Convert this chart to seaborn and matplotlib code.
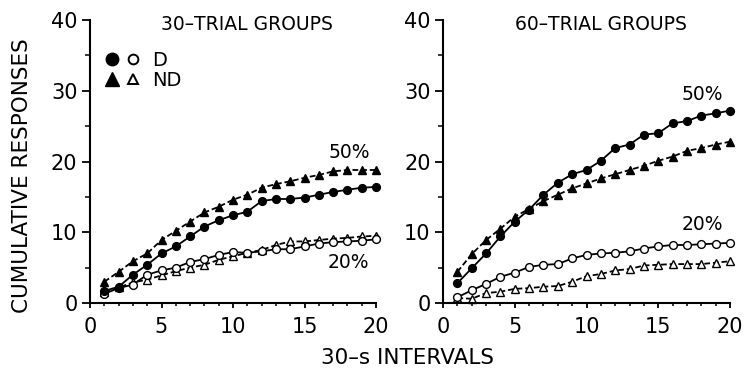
import numpy as np
import pandas as pd
import matplotlib
matplotlib.use("Agg")
import matplotlib.pyplot as plt
import seaborn as sns
from matplotlib.lines import Line2D
from matplotlib.legend_handler import HandlerTuple
from matplotlib.ticker import MultipleLocator

intervals = list(range(1, 21))

# 30-trial groups
t30_d50 = [1.7, 2.3, 4.0, 5.4, 7.0, 8.0, 9.4, 10.8, 11.7, 12.4, 12.9, 14.4, 14.7, 14.7, 14.9, 15.3, 15.7, 16.0, 16.3, 16.4]
t30_nd50 = [3.0, 4.4, 5.9, 7.0, 8.9, 10.2, 11.5, 12.8, 13.6, 14.6, 15.3, 16.3, 16.8, 17.2, 17.7, 18.1, 18.6, 18.8, 18.8, 18.8]
t30_d20 = [1.3, 2.1, 2.6, 4.0, 4.6, 5.0, 5.8, 6.2, 6.8, 7.2, 7.1, 7.3, 7.6, 7.6, 8.0, 8.4, 8.6, 8.7, 8.8, 9.0]
t30_nd20 = [1.5, 2.2, 2.9, 3.3, 3.9, 4.5, 5.0, 5.4, 6.1, 6.6, 7.1, 7.5, 8.2, 8.7, 8.7, 8.9, 9.1, 9.2, 9.4, 9.5]

# 60-trial groups
t60_d50 = [2.8, 4.9, 7.0, 9.4, 11.5, 13.2, 15.3, 17.0, 18.2, 18.8, 20.1, 21.9, 22.4, 23.8, 24.0, 25.4, 25.7, 26.5, 26.8, 27.2]
t60_nd50 = [4.4, 6.9, 8.9, 10.5, 12.2, 13.3, 14.4, 15.3, 16.2, 16.9, 17.6, 18.2, 18.8, 19.4, 20.1, 20.7, 21.5, 21.9, 22.4, 22.8]
t60_d20 = [0.8, 1.8, 2.7, 3.7, 4.3, 5.1, 5.4, 5.5, 6.3, 6.8, 7.0, 7.1, 7.3, 7.7, 8.0, 8.2, 8.2, 8.3, 8.4, 8.5]
t60_nd20 = [0.7, 0.6, 1.4, 1.6, 2.0, 2.1, 2.3, 2.4, 3.0, 3.8, 4.1, 4.6, 4.8, 5.3, 5.4, 5.5, 5.5, 5.5, 5.7, 5.9]

panel_titles = ["30\u2013TRIAL GROUPS", "60\u2013TRIAL GROUPS"]
pct_labels = ["50%", "20%"]
legend_labels = ["D", "ND"]
y_ticks = [0, 10, 20, 30, 40]
x_ticks = [0, 5, 10, 15, 20]
xlabel = "30\u2013s INTERVALS"
ylabel = "CUMULATIVE RESPONSES"

sns.set_style("ticks")
plt.rcParams["font.family"] = ["DejaVu Sans"]
plt.rcParams["text.color"] = "black"
plt.rcParams["axes.labelcolor"] = "black"
plt.rcParams["xtick.color"] = "black"
plt.rcParams["ytick.color"] = "black"

fig = plt.figure(figsize=(7.44, 3.72), dpi=100)
fig.patch.set_facecolor("white")
axL = fig.add_axes([90 / 744, 1 - 303 / 372, 286 / 744, 283 / 372])
axR = fig.add_axes([443 / 744, 1 - 303 / 372, 287 / 744, 283 / 372])

MS = 5.6
LW = 1.3
DASH = (0, (3.2, 1.6))


def draw(ax, y, marker, filled, dashed):
    df = pd.DataFrame({"x": intervals, "y": y})
    sns.lineplot(
        data=df, x="x", y="y", ax=ax, color="black",
        marker=marker, markersize=MS if marker == "o" else MS + 0.6,
        markerfacecolor="black" if filled else "white",
        markeredgecolor="black", markeredgewidth=1.0,
        linewidth=LW, linestyle=DASH if dashed else "-",
        legend=False, errorbar=None,
    )


panels = [
    (axL, t30_d50, t30_nd50, t30_d20, t30_nd20, (18.1, 21.3), (18.1, 5.7)),
    (axR, t60_d50, t60_nd50, t60_d20, t60_nd20, (18.07, 29.4), (18.07, 11.1)),
]

for i, (ax, d50, nd50, d20, nd20, p50, p20) in enumerate(panels):
    draw(ax, nd20, "^", False, True)
    draw(ax, d20, "o", False, False)
    draw(ax, nd50, "^", True, True)
    draw(ax, d50, "o", True, False)

    ax.set_xlim(0, 20)
    ax.set_ylim(0, 40)
    ax.set_xticks(x_ticks)
    ax.set_yticks(y_ticks)
    ax.xaxis.set_minor_locator(MultipleLocator(1))
    ax.yaxis.set_minor_locator(MultipleLocator(5))
    ax.tick_params(axis="both", which="major", direction="out", width=1.3,
                   labelsize=15, colors="black")
    ax.tick_params(axis="y", which="major", length=6, pad=3)
    ax.tick_params(axis="y", which="minor", length=3.5, width=1.1)
    ax.tick_params(axis="x", which="major", length=3.8, pad=6)
    ax.tick_params(axis="x", which="minor", length=2.2, width=1.1)
    for s in ["top", "right"]:
        ax.spines[s].set_visible(False)
    for s in ["left", "bottom"]:
        ax.spines[s].set_linewidth(1.5)
        ax.spines[s].set_color("black")
    ax.set_xlabel("")
    ax.set_ylabel("")
    ax.set_facecolor("white")
    for ln in ax.lines:
        ln.set_clip_on(False)

    ax.text(11.0, 39.3, panel_titles[i], ha="center", va="center", fontsize=13.5)
    ax.text(p50[0], p50[1], pct_labels[0], ha="center", va="center", fontsize=13.5)
    ax.text(p20[0], p20[1], pct_labels[1], ha="center", va="center", fontsize=13.5)

# legend
h_fc = Line2D([], [], marker="o", color="black", linestyle="none", markersize=9,
              markerfacecolor="black")
h_oc = Line2D([], [], marker="o", color="black", linestyle="none", markersize=7,
              markerfacecolor="white", markeredgewidth=1.4)
h_ft = Line2D([], [], marker="^", color="black", linestyle="none", markersize=9.5,
              markerfacecolor="black")
h_ot = Line2D([], [], marker="^", color="black", linestyle="none", markersize=7.5,
              markerfacecolor="white", markeredgewidth=1.4)
axL.legend(
    handles=[(h_fc, h_oc), (h_ft, h_ot)], labels=legend_labels,
    handler_map={tuple: HandlerTuple(ndivide=None, pad=0.22)},
    loc="upper left", bbox_to_anchor=(0.045, 0.892), frameon=False,
    fontsize=14, handlelength=2.0, handletextpad=0.55, labelspacing=0.05,
    borderpad=0, borderaxespad=0,
)

fig.text(408 / 744, 1 - 358 / 372, xlabel, ha="center", va="center", fontsize=15.5)
fig.text(21.7 / 744, 1 - 175.7 / 372, ylabel, ha="center", va="center",
         rotation=90, fontsize=15.5)

fig.savefig("out.png", dpi=100, facecolor="white")
